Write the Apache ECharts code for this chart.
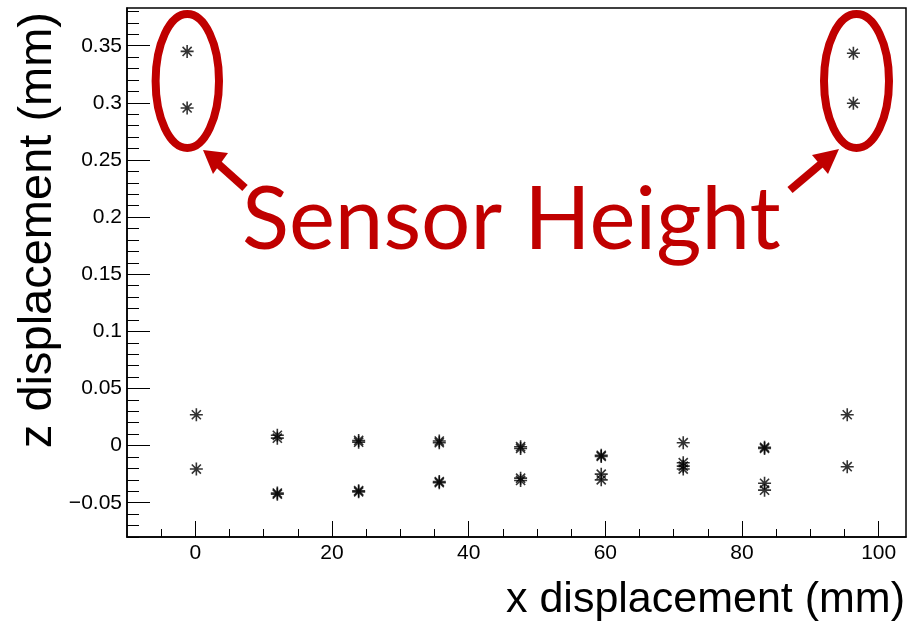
<!DOCTYPE html>
<html>
<head>
<meta charset="utf-8">
<script src="https://cdn.jsdelivr.net/npm/echarts@6/dist/echarts.min.js"></script>
<style>
  html, body { margin: 0; padding: 0; background: #ffffff; }
  #chart { width: 913px; height: 621px; }
</style>
</head>
<body>
<div id="chart"></div>
<script>
// Sensor-height measurements (top of the sensor), mm
const sensorX = [-1.2, -1.2, 96.3, 96.3];
const sensorZ = [0.345, 0.2955, 0.3434, 0.2996];

// Surface survey points along the module, mm
const surveyX = [0.15, 0.15,
  12.0, 12.0, 12.0, 12.0,
  23.9, 23.9, 23.9, 23.9,
  35.7, 35.7, 35.7, 35.7,
  47.6, 47.6, 47.6, 47.6,
  59.4, 59.4, 59.4, 59.4,
  71.4, 71.4, 71.4, 71.4,
  83.3, 83.3, 83.3, 83.3,
  95.4, 95.4];
const surveyZ = [0.027, -0.0205,
  0.0090, 0.0065, -0.0425, -0.0415,
  0.0045, 0.0030, -0.0405, -0.0395,
  0.0040, 0.0025, -0.0315, -0.0325,
  -0.0010, -0.0025, -0.0285, -0.0305,
  -0.0085, -0.0095, -0.0250, -0.0300,
  0.0025, -0.0150, -0.0180, -0.0205,
  -0.0015, -0.0025, -0.0330, -0.0390,
  0.0270, -0.0185];

// Axis ticks
const xMajorTicks = [0, 20, 40, 60, 80, 100];
const yMajorTicks = [-0.05, 0, 0.05, 0.1, 0.15, 0.2, 0.25, 0.3, 0.35];
const yTickLabels = ['\u22120.05', '0', '0.05', '0.1', '0.15', '0.2', '0.25', '0.3', '0.35'];

const X_MIN = -10, X_MAX = 104;
const Y_MIN = -0.08, Y_MAX = 0.383;

const xMinorTicks = [];
for (let v = -5; v <= X_MAX; v += 5) xMinorTicks.push(v);
const yMinorTicks = [];
for (let i = -8; i <= 38; i++) yMinorTicks.push(i / 100);

const RED = '#c00000';
const AXIS_FONT = 'Liberation Sans, Arial, Helvetica, sans-serif';

// ROOT-style asterisk marker
const ASTERISK = 'path://M0,5L10,5M5,0L5,10M1.5,1.5L8.5,8.5M8.5,1.5L1.5,8.5';

function pairs(xs, ys) { return xs.map((x, i) => [x, ys[i]]); }

const markerStyle = { color: '#000', borderColor: '#000', borderWidth: 1.6 };

const chart = echarts.init(document.getElementById('chart'), null, { renderer: 'canvas' });

chart.setOption({
  animation: false,
  backgroundColor: '#ffffff',
  grid: {
    left: 127, top: 8, right: 7, bottom: 84,
    show: true, borderColor: '#000', borderWidth: 1.5, backgroundColor: 'transparent'
  },
  xAxis: [
    {
      type: 'value', min: X_MIN, max: X_MAX, position: 'bottom',
      axisLine: { show: true, onZero: false, lineStyle: { color: '#000', width: 1.5 } },
      axisTick: { show: true, inside: true, length: 16, customValues: xMajorTicks,
                  lineStyle: { color: '#000', width: 1 } },
      axisLabel: { customValues: xMajorTicks, margin: 6, color: '#000',
                   fontSize: 21, fontFamily: AXIS_FONT },
      splitLine: { show: false }
    },
    {
      type: 'value', min: X_MIN, max: X_MAX, position: 'bottom',
      axisLine: { show: false, onZero: false },
      axisTick: { show: true, inside: true, length: 8, customValues: xMinorTicks,
                  lineStyle: { color: '#000', width: 1 } },
      axisLabel: { show: false },
      splitLine: { show: false }
    }
  ],
  yAxis: [
    {
      type: 'value', min: Y_MIN, max: Y_MAX, position: 'left',
      axisLine: { show: true, onZero: false, lineStyle: { color: '#000', width: 1.5 } },
      axisTick: { show: true, inside: true, length: 23, customValues: yMajorTicks,
                  lineStyle: { color: '#000', width: 1 } },
      axisLabel: {
        customValues: yMajorTicks, margin: 5, color: '#000',
        fontSize: 21, fontFamily: AXIS_FONT,
        formatter: function (v) {
          const i = yMajorTicks.findIndex(t => Math.abs(t - v) < 1e-9);
          return i >= 0 ? yTickLabels[i] : '';
        }
      },
      splitLine: { show: false }
    },
    {
      type: 'value', min: Y_MIN, max: Y_MAX, position: 'left',
      axisLine: { show: false, onZero: false },
      axisTick: { show: true, inside: true, length: 12, customValues: yMinorTicks,
                  lineStyle: { color: '#000', width: 1 } },
      axisLabel: { show: false },
      splitLine: { show: false }
    }
  ],
  series: [
    {
      name: 'sensor', type: 'scatter', xAxisIndex: 0, yAxisIndex: 0,
      symbol: ASTERISK, symbolSize: 13, itemStyle: markerStyle,
      data: pairs(sensorX, sensorZ)
    },
    {
      name: 'survey', type: 'scatter', xAxisIndex: 0, yAxisIndex: 0,
      symbol: ASTERISK, symbolSize: 13, itemStyle: markerStyle,
      data: pairs(surveyX, surveyZ)
    }
  ],
  graphic: [
    // axis titles
    {
      type: 'text', x: 905, y: 600,
      style: { text: 'x displacement (mm)', fill: '#000', font: '43px ' + AXIS_FONT,
               align: 'right', verticalAlign: 'middle' }
    },
    {
      type: 'text', x: 38, y: 12, rotation: Math.PI / 2,
      style: { text: 'z displacement (mm)', fill: '#000', font: '47px ' + AXIS_FONT,
               align: 'right', verticalAlign: 'middle' }
    },
    // callout ellipses around the sensor-height points
    {
      type: 'ellipse', shape: { cx: 187.3, cy: 81, rx: 31.7, ry: 67 },
      style: { fill: 'none', stroke: RED, lineWidth: 8 }, z: 10
    },
    {
      type: 'ellipse', shape: { cx: 856.5, cy: 81, rx: 32.5, ry: 67 },
      style: { fill: 'none', stroke: RED, lineWidth: 8 }, z: 10
    },
    // arrows
    {
      type: 'line', shape: { x1: 245, y1: 188, x2: 216, y2: 162 },
      style: { stroke: RED, lineWidth: 8 }, z: 10
    },
    {
      type: 'polygon', shape: { points: [[203, 150], [228, 153], [213, 174]] },
      style: { fill: RED }, z: 10
    },
    {
      type: 'line', shape: { x1: 790, y1: 190, x2: 822, y2: 163 },
      style: { stroke: RED, lineWidth: 8 }, z: 10
    },
    {
      type: 'polygon', shape: { points: [[839, 149], [812, 155], [828, 174]] },
      style: { fill: RED }, z: 10
    },
    // callout label
    {
      type: 'text', x: 242, y: 177,
      style: { text: 'Sensor Height', fill: RED, font: '87px Lato, "Open Sans", sans-serif',
               align: 'left', verticalAlign: 'top' }, z: 10
    }
  ]
});
</script>
</body>
</html>
